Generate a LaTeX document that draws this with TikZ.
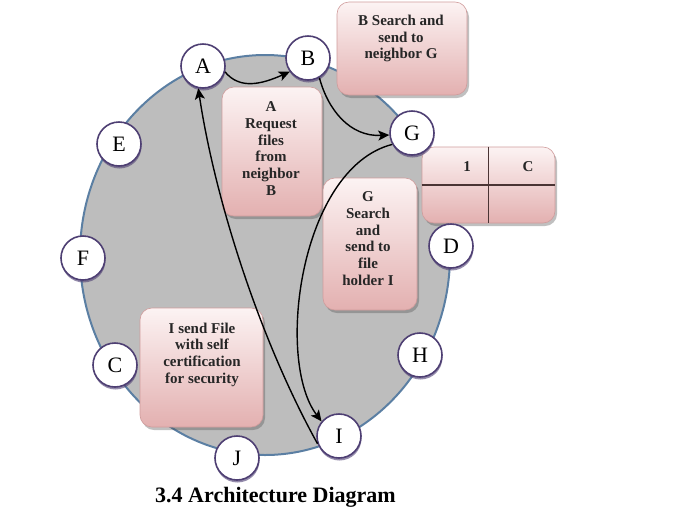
\documentclass[tikz,border=0pt]{standalone}
\usepackage{fontspec}
\setmainfont{Liberation Serif}
\usetikzlibrary{arrows.meta,shadows}
\definecolor{ringfill}{HTML}{BDBDBD}
\definecolor{ringline}{HTML}{5B7FA3}
\definecolor{nodeline}{HTML}{4E3F73}
\definecolor{boxtop}{HTML}{FCF3F3}
\definecolor{boxbot}{HTML}{E3B0B0}
\definecolor{boxline}{HTML}{D09C9C}
\definecolor{tabline}{HTML}{4A3434}
\begin{document}
\begin{tikzpicture}[x=1pt,y=-1pt,
  box/.style={rectangle, rounded corners=12pt, top color=boxtop, bottom color=boxbot,
    draw=boxline, line width=0.6pt, inner sep=0pt,
    drop shadow={shadow xshift=2pt, shadow yshift=-3pt, opacity=0.35, fill=black!70}},
  boxtext/.style={align=center, inner sep=0pt, font=\fontsize{15}{16.7}\selectfont\bfseries, text=black!85},
  peer/.style={circle, minimum size=44pt, inner sep=0pt, fill=white, draw=nodeline, line width=1.6pt,
    font=\fontsize{22}{22}\selectfont,
    drop shadow={shadow xshift=0.5pt, shadow yshift=-2.5pt, opacity=0.6, fill=nodeline}},
  arr/.style={-{Stealth[length=11pt,width=10pt,inset=2.5pt]}, line width=1.4pt, black}]
\useasboundingbox (0,0) rectangle (699,523);
\fill[white] (0,0) rectangle (699,523);
% ring
\draw[ringline, line width=2pt, fill=ringfill] (265,255) ellipse [x radius=185pt, y radius=200pt];
% boxes
\node[box, minimum width=130pt, minimum height=93pt] (bxB) at (402,48.5) {};
\node[boxtext] (tB) at (401,38.5) {B Search and\\send to\\neighbor G};
\node[box, minimum width=100pt, minimum height=129pt] (bxA) at (272,151.5) {};
\node[boxtext] (tA) at (271,148.5) {A\\Request\\files\\from\\neighbor\\B};
\node[box, minimum width=94pt, minimum height=132pt] (bxG) at (370,244) {};
\node[boxtext] (tG) at (368,238.5) {G\\Search\\and\\send to\\file\\holder I};
\node[box, minimum width=123pt, minimum height=119pt] (bxI) at (201.5,367.5) {};
\node[boxtext] (tI) at (202,354.5) {I send File\\with self\\certification\\for security};
% table
\node[box, minimum width=133pt, minimum height=76pt] (tab) at (488.5,185) {};
\draw[tabline, line width=1.2pt] (tab.north) -- (tab.south);
\draw[tabline, line width=1.2pt] (tab.west) -- (tab.east);
\node[boxtext] (t1) at (467,167) {1};
\node[boxtext] (tC) at (528,167) {C};
% peers
\node[peer] (A) at (203,66) {A};
\node[peer] (B) at (308,58) {B};
\node[peer] (G) at (412,133) {G};
\node[peer] (D) at (451,246) {D};
\node[peer] (H) at (420,355) {H};
\node[peer] (I) at (339,436) {I};
\node[peer] (J) at (237,458) {J};
\node[peer] (C) at (115,365) {C};
\node[peer] (F) at (83,258) {F};
\node[peer] (E) at (119,144) {E};
% arrows
\draw[arr] (A.-15) .. controls (240,90) and (262,84) .. (B.217);
\draw[arr] (B.-60) .. controls (328,110) and (350,137) .. (G.185);
\draw[arr] (G.210) .. controls (300,168) and (275,360) .. (I.140);
\draw[arr] (I.200) .. controls (260,340) and (215,200) .. (A.258);
% caption
\node[font=\fontsize{22}{22}\selectfont\bfseries, anchor=base] (cap) at (275.5,502) {3.4 Architecture Diagram};
\end{tikzpicture}
\end{document}
